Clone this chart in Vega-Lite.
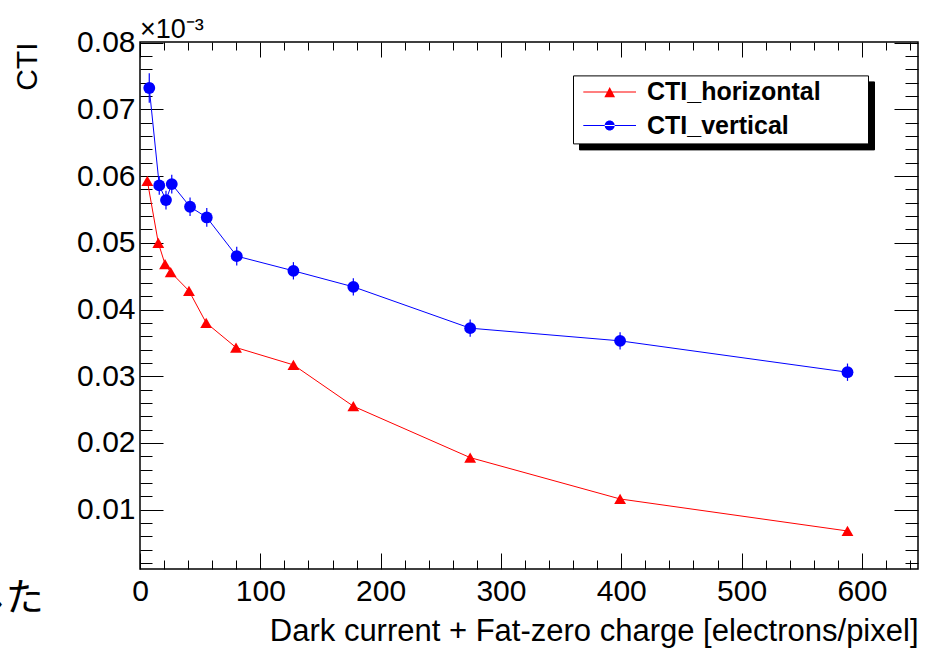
{
  "$schema": "https://vega.github.io/schema/vega-lite/v6.json",
  "width": 778,
  "height": 527,
  "autosize": {"type": "none"},
  "padding": {"left": 140, "top": 42, "right": 8, "bottom": 92},
  "background": "white",
  "config": {
    "view": {"stroke": "black", "strokeWidth": 1.5},
    "axis": {"grid": false, "domain": false, "tickColor": "black", "tickWidth": 1, "labelFont": "Liberation Sans", "titleFont": "Liberation Sans", "labelColor": "black", "titleColor": "black", "titleFontWeight": "normal", "labelOverlap": false, "labelFlush": false}
  },
  "title": {"text": "×10⁻³", "anchor": "start", "frame": "group", "orient": "top", "font": "Liberation Sans", "fontSize": 27, "fontWeight": "normal", "color": "black", "offset": 4, "baseline": "bottom", "dy": 47},
  "datasets": {
    "main": [
      {"series": "CTI_horizontal", "x": 6.1, "y": 0.0593},
      {"series": "CTI_horizontal", "x": 15.2, "y": 0.0500},
      {"series": "CTI_horizontal", "x": 20.8, "y": 0.0468},
      {"series": "CTI_horizontal", "x": 25.5, "y": 0.0456},
      {"series": "CTI_horizontal", "x": 40.7, "y": 0.0428},
      {"series": "CTI_horizontal", "x": 55.0, "y": 0.0380},
      {"series": "CTI_horizontal", "x": 79.8, "y": 0.0343},
      {"series": "CTI_horizontal", "x": 127.5, "y": 0.0317},
      {"series": "CTI_horizontal", "x": 177.3, "y": 0.0255},
      {"series": "CTI_horizontal", "x": 274.4, "y": 0.0178},
      {"series": "CTI_horizontal", "x": 399.0, "y": 0.0116},
      {"series": "CTI_horizontal", "x": 588.0, "y": 0.0068},
      {"series": "CTI_vertical", "x": 7.7, "y": 0.0732, "lo": 0.0710, "hi": 0.0754},
      {"series": "CTI_vertical", "x": 16.0, "y": 0.0586, "lo": 0.0572, "hi": 0.0600},
      {"series": "CTI_vertical", "x": 21.6, "y": 0.0564, "lo": 0.0550, "hi": 0.0578},
      {"series": "CTI_vertical", "x": 26.4, "y": 0.0588, "lo": 0.0574, "hi": 0.0602},
      {"series": "CTI_vertical", "x": 41.6, "y": 0.0554, "lo": 0.0540, "hi": 0.0568},
      {"series": "CTI_vertical", "x": 55.5, "y": 0.0538, "lo": 0.0524, "hi": 0.0552},
      {"series": "CTI_vertical", "x": 80.4, "y": 0.0480, "lo": 0.0466, "hi": 0.0494},
      {"series": "CTI_vertical", "x": 127.5, "y": 0.0458, "lo": 0.0445, "hi": 0.0471},
      {"series": "CTI_vertical", "x": 177.3, "y": 0.0434, "lo": 0.0421, "hi": 0.0447},
      {"series": "CTI_vertical", "x": 274.4, "y": 0.0372, "lo": 0.0359, "hi": 0.0385},
      {"series": "CTI_vertical", "x": 399.0, "y": 0.0353, "lo": 0.0340, "hi": 0.0366},
      {"series": "CTI_vertical", "x": 588.0, "y": 0.0306, "lo": 0.0293, "hi": 0.0319}
    ],
    "note": [{"x": -80, "y": -0.0034, "t": "した"}]
  },
  "layer": [
    {
      "data": {"values": []},
      "mark": {"type": "point", "filled": true, "size": 100},
      "encoding": {
        "color": {"field": "series", "type": "nominal", "scale": {"domain": ["CTI_horizontal", "CTI_vertical"], "range": ["#ff0000", "#0000ff"]},
          "legend": {
            "orient": "none", "legendX": 433, "legendY": 33.4, "zindex": 2,
            "title": ".", "titleOrient": "right", "titlePadding": 36, "titleOpacity": 0, "titleFontSize": 25, "titleFont": "Liberation Sans",
            "fillColor": "white", "strokeColor": "black", "padding": 4,
            "labelFont": "Liberation Sans", "labelFontSize": 25, "labelFontWeight": "bold", "labelColor": "black", "labelLimit": 400,
            "labelOffset": 45, "symbolSize": 100, "symbolStrokeWidth": 0, "rowPadding": 7.7, "symbolOpacity": 1
          }},
        "shape": {"field": "series", "type": "nominal", "scale": {"domain": ["CTI_horizontal", "CTI_vertical"], "range": ["M-1.24,-0.1H9.3V0.1H-1.24Z M4.04,-1L5.11,1.06L2.97,1.06Z", "M-1.24,-0.1H9.3V0.1H-1.24Z M3.04,0A1,1 0 1,0 5.04,0A1,1 0 1,0 3.04,0Z"]}, "legend": null},
        "strokeDash": {"field": "s2", "type": "nominal", "scale": {"domain": ["CTI_horizontal ", "CTI_vertical "], "range": [[1, 0], [1, 0]]},
          "legend": {
            "orient": "none", "legendX": 439, "legendY": 39.4, "zindex": 1,
            "title": ".", "titleOrient": "right", "titlePadding": 36, "titleOpacity": 0, "titleFontSize": 25, "titleFont": "Liberation Sans",
            "fillColor": "black", "strokeColor": "black", "padding": 4,
            "labelFont": "Liberation Sans", "labelFontSize": 25, "labelFontWeight": "bold", "labelColor": "black", "labelLimit": 400,
            "labelOffset": 45, "symbolSize": 100, "symbolStrokeWidth": 0, "rowPadding": 7.7,
            "symbolFillColor": "black", "symbolStrokeColor": "black",
            "labelExpr": "trim(datum.label)"
          }}
      }
    },
    {
      "data": {"name": "main"},
      "mark": {"type": "line", "strokeWidth": 1},
      "encoding": {
        "x": {"field": "x", "type": "quantitative", "scale": {"domain": [0, 646.6], "nice": false, "zero": false},
          "axis": {"orient": "bottom", "values": [0, 100, 200, 300, 400, 500, 600], "tickSize": -16, "labelFontSize": 30, "labelPadding": 23, "title": "Dark current + Fat-zero charge [electrons/pixel]", "titleFontSize": 31, "titleAnchor": "end", "titlePadding": 10}},
        "y": {"field": "y", "type": "quantitative", "scale": {"domain": [0.0011, 0.0801], "nice": false, "zero": false},
          "axis": {"orient": "left", "values": [0.01, 0.02, 0.03, 0.04, 0.05, 0.06, 0.07, 0.08], "format": ".2f", "tickSize": -23, "labelFontSize": 30, "labelPadding": 28, "title": "CTI", "titleFontSize": 30, "titleAnchor": "end", "titlePadding": 34}},
        "stroke": {"field": "series", "type": "nominal", "scale": {"domain": ["CTI_horizontal", "CTI_vertical"], "range": ["#ff0000", "#0000ff"]}, "legend": null}
      }
    },
    {
      "data": {"name": "main"},
      "transform": [{"filter": "datum.series === 'CTI_vertical'"}],
      "mark": {"type": "rule", "color": "#0000ff", "strokeWidth": 1.2},
      "encoding": {
        "x": {"field": "x", "type": "quantitative", "scale": {"domain": [0, 646.6], "nice": false, "zero": false},
          "axis": {"orient": "bottom", "values": [20, 40, 60, 80, 120, 140, 160, 180, 220, 240, 260, 280, 320, 340, 360, 380, 420, 440, 460, 480, 520, 540, 560, 580, 620, 640], "tickSize": -9, "labels": false, "title": null}},
        "y": {"field": "lo", "type": "quantitative", "scale": {"domain": [0.0011, 0.0801], "nice": false, "zero": false},
          "axis": {"orient": "left", "values": [0.002, 0.004, 0.006, 0.008, 0.012, 0.014, 0.016, 0.018, 0.022, 0.024, 0.026, 0.028, 0.032, 0.034, 0.036, 0.038, 0.042, 0.044, 0.046, 0.048, 0.052, 0.054, 0.056, 0.058, 0.062, 0.064, 0.066, 0.068, 0.072, 0.074, 0.076, 0.078], "tickSize": -12, "labels": false, "title": null}},
        "y2": {"field": "hi"}
      }
    },
    {
      "data": {"name": "main"},
      "transform": [{"filter": "datum.series === 'CTI_horizontal'"}],
      "mark": {"type": "point", "filled": true, "opacity": 1, "size": 140, "shape": "triangle-up", "color": "#ff0000"},
      "encoding": {
        "x": {"field": "x", "type": "quantitative", "scale": {"domain": [0, 646.6], "nice": false, "zero": false},
          "axis": {"orient": "top", "values": [0, 100, 200, 300, 400, 500, 600], "tickSize": -15, "labels": false, "title": null}},
        "y": {"field": "y", "type": "quantitative", "scale": {"domain": [0.0011, 0.0801], "nice": false, "zero": false},
          "axis": {"orient": "right", "values": [0.01, 0.02, 0.03, 0.04, 0.05, 0.06, 0.07, 0.08], "tickSize": -24, "labels": false, "title": null}}
      }
    },
    {
      "data": {"name": "main"},
      "transform": [{"filter": "datum.series === 'CTI_vertical'"}],
      "mark": {"type": "point", "filled": true, "opacity": 1, "size": 140, "shape": "circle", "color": "#0000ff"},
      "encoding": {
        "x": {"field": "x", "type": "quantitative", "scale": {"domain": [0, 646.6], "nice": false, "zero": false},
          "axis": {"orient": "top", "values": [20, 40, 60, 80, 120, 140, 160, 180, 220, 240, 260, 280, 320, 340, 360, 380, 420, 440, 460, 480, 520, 540, 560, 580, 620, 640], "tickSize": -8, "labels": false, "title": null}},
        "y": {"field": "y", "type": "quantitative", "scale": {"domain": [0.0011, 0.0801], "nice": false, "zero": false},
          "axis": {"orient": "right", "values": [0.002, 0.004, 0.006, 0.008, 0.012, 0.014, 0.016, 0.018, 0.022, 0.024, 0.026, 0.028, 0.032, 0.034, 0.036, 0.038, 0.042, 0.044, 0.046, 0.048, 0.052, 0.054, 0.056, 0.058, 0.062, 0.064, 0.066, 0.068, 0.072, 0.074, 0.076, 0.078], "tickSize": -13, "labels": false, "title": null}}
      }
    },
    {
      "data": {"name": "note"},
      "mark": {"type": "text", "align": "right", "baseline": "middle", "font": "Noto Sans CJK JP", "fontSize": 38, "color": "black"},
      "encoding": {
        "x": {"field": "x", "type": "quantitative", "scale": {"domain": [0, 646.6], "nice": false, "zero": false}, "axis": null},
        "y": {"field": "y", "type": "quantitative", "scale": {"domain": [0.0011, 0.0801], "nice": false, "zero": false}, "axis": null},
        "text": {"field": "t"}
      }
    }
  ],
  "resolve": {"axis": {"x": "independent", "y": "independent"}}
}
